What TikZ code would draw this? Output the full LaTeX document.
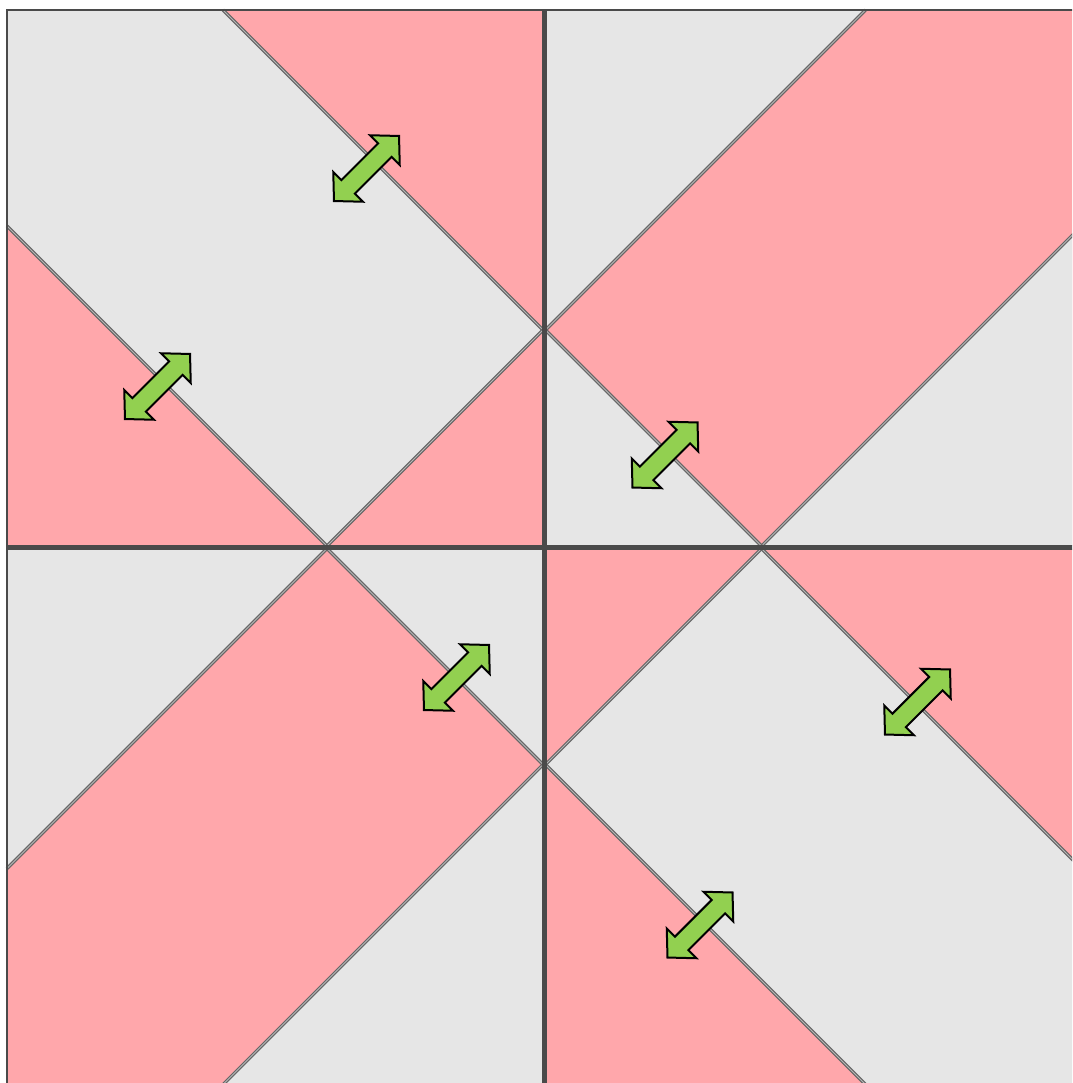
\documentclass[tikz,border=0pt]{standalone}
\usetikzlibrary{arrows.meta,positioning,calc}
\definecolor{rose}{HTML}{FFA7AB}
\definecolor{stone}{HTML}{E6E6E6}
\definecolor{leaf}{HTML}{92D050}
\definecolor{seam}{HTML}{4A4A4A}
\tikzset{cut/.style={draw=seam!85,line width=1.2pt,double=seam!40,double distance=0.8pt},frame/.style={draw=seam,line width=2.8pt},swap/.pic={\draw[fill=leaf,draw=black,line width=2pt,line join=miter](46,0)--(26,21)--(26,9.5)--(-26,9.5)--(-26,21)--(-46,0)--(-26,-21)--(-26,-9.5)--(26,-9.5)--(26,-21)--cycle;}}
\newcommand\corner[4]{\fill[#1]#2--#3--#4--cycle;\draw[cut]#3--#4;}

\begin{document}
\begin{tikzpicture}[x=1pt,y=-1pt]
\useasboundingbox[fill=white](0,0)rectangle(1072,1083);
\clip(0,0)rectangle(1072,1083);
% top left
\begin{scope}[shift={(7,10)}]
\fill[stone](0,0)rectangle(536,536);
\corner{rose}{(536,0)}{(216,0)}{(536,320)}
\corner{rose}{(0,536)}{(0,216)}{(320,536)}
\corner{rose}{(536,536)}{(320,536)}{(536,320)}
\draw[frame](0,0)rectangle(536,536);
\end{scope}
% top right
\begin{scope}[shift={(545.5,10)}]
\fill[rose](0,0)rectangle(536,536);
\corner{stone}{(0,0)}{(320,0)}{(0,320)}
\corner{stone}{(536,536)}{(536,216)}{(216,536)}
\corner{stone}{(0,536)}{(0,320)}{(216,536)}
\draw[frame](0,0)rectangle(536,536);
\end{scope}
% bottom left
\begin{scope}[shift={(7,548.5)}]
\fill[rose](0,0)rectangle(536,536);
\corner{stone}{(0,0)}{(320,0)}{(0,320)}
\corner{stone}{(536,536)}{(536,216)}{(216,536)}
\corner{stone}{(536,0)}{(320,0)}{(536,216)}
\draw[frame](0,0)rectangle(536,536);
\end{scope}
% bottom right
\begin{scope}[shift={(545.5,548.5)}]
\fill[stone](0,0)rectangle(536,536);
\corner{rose}{(0,0)}{(216,0)}{(0,216)}
\corner{rose}{(536,0)}{(216,0)}{(536,320)}
\corner{rose}{(0,536)}{(0,216)}{(320,536)}
\draw[frame](0,0)rectangle(536,536);
\end{scope}
% swaps
\foreach \x/\y [count=\i] in {366.5/168.5,157.5/386.5,665/455,456.5/677.5,917.5/702,700/925}
  \pic[rotate=45] (s\i) at (\x,\y) {swap};
\end{tikzpicture}
\end{document}
